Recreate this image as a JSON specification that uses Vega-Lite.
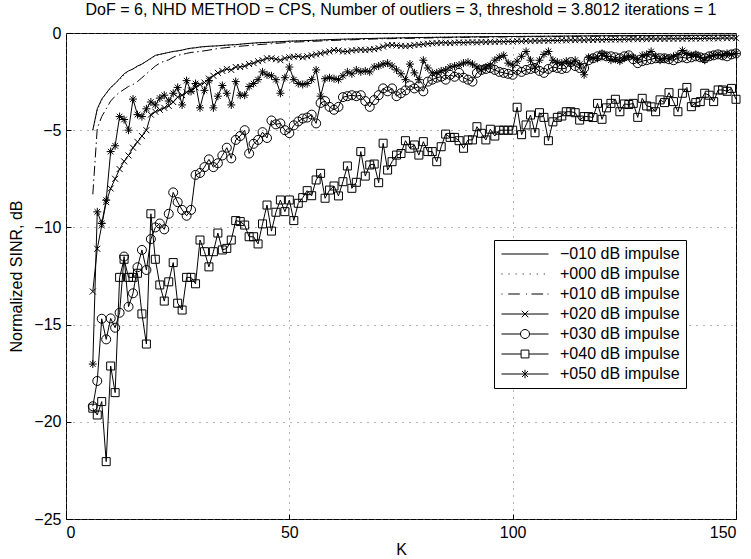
{
"$schema": "https://vega.github.io/schema/vega-lite/v6.json",
"width": 670, "height": 486,
"autosize": "none",
"padding": {"left": 66, "top": 33, "right": 15, "bottom": 40},
"title": {"text": "DoF = 6, NHD METHOD = CPS, Number of outliers = 3, threshold = 3.8012 iterations = 1", "fontSize": 16, "fontWeight": "normal", "font": "Liberation Sans", "color": "black", "offset": 7, "frame": "group", "anchor": "middle"},
"config": {
  "font": "Liberation Sans",
  "view": {"stroke": "black", "strokeWidth": 1},
  "axis": {"labelFontSize": 16, "labelColor": "black", "titleFontSize": 16, "titleFontWeight": "normal", "titleColor": "black", "grid": true, "gridColor": "#666", "gridDash": [1, 6], "gridWidth": 1, "domain": false, "ticks": true, "tickSize": -5, "tickColor": "black", "labelPadding": 10}
},
"datasets": {
"leg": [{"s":"−010 dB impulse","k":6,"v":-5},{"s":"+000 dB impulse","k":6,"v":-5},{"s":"+010 dB impulse","k":6,"v":-8.3},{"s":"+020 dB impulse","k":6,"v":-13.3},{"s":"+030 dB impulse","k":6,"v":-19.2},{"s":"+040 dB impulse","k":6,"v":-19.3},{"s":"+050 dB impulse","k":6,"v":-17}],
"s1": [{"k":6,"v":-5.0},{"k":7,"v":-3.9},{"k":8,"v":-3.4},{"k":9,"v":-3.1},{"k":10,"v":-2.8},{"k":11,"v":-2.6},{"k":12,"v":-2.35},{"k":13,"v":-2.1},{"k":14,"v":-1.95},{"k":15,"v":-1.85},{"k":16,"v":-1.7},{"k":17,"v":-1.6},{"k":18,"v":-1.45},{"k":19,"v":-1.3},{"k":20,"v":-1.15},{"k":21,"v":-1.1},{"k":22,"v":-1.05},{"k":23,"v":-1.0},{"k":24,"v":-0.95},{"k":25,"v":-0.92},{"k":26,"v":-0.88},{"k":27,"v":-0.82},{"k":28,"v":-0.78},{"k":29,"v":-0.76},{"k":30,"v":-0.72},{"k":32,"v":-0.68},{"k":34,"v":-0.66},{"k":36,"v":-0.62},{"k":38,"v":-0.6},{"k":40,"v":-0.55},{"k":43,"v":-0.5},{"k":46,"v":-0.47},{"k":50,"v":-0.42},{"k":55,"v":-0.38},{"k":60,"v":-0.33},{"k":65,"v":-0.3},{"k":70,"v":-0.27},{"k":75,"v":-0.25},{"k":80,"v":-0.23},{"k":90,"v":-0.2},{"k":100,"v":-0.18},{"k":110,"v":-0.16},{"k":120,"v":-0.14},{"k":130,"v":-0.13},{"k":140,"v":-0.12},{"k":150,"v":-0.11}],
"s2": [{"k":6,"v":-5.0},{"k":7,"v":-3.95},{"k":8,"v":-3.45},{"k":9,"v":-3.1},{"k":10,"v":-2.85},{"k":11,"v":-2.6},{"k":12,"v":-2.4},{"k":13,"v":-2.15},{"k":14,"v":-1.95},{"k":15,"v":-1.85},{"k":16,"v":-1.72},{"k":17,"v":-1.6},{"k":18,"v":-1.47},{"k":19,"v":-1.32},{"k":20,"v":-1.17},{"k":21,"v":-1.1},{"k":22,"v":-1.05},{"k":23,"v":-1.0},{"k":24,"v":-0.96},{"k":25,"v":-0.92},{"k":26,"v":-0.88},{"k":27,"v":-0.83},{"k":28,"v":-0.79},{"k":29,"v":-0.76},{"k":30,"v":-0.73},{"k":32,"v":-0.69},{"k":34,"v":-0.66},{"k":36,"v":-0.63},{"k":38,"v":-0.6},{"k":40,"v":-0.56},{"k":43,"v":-0.51},{"k":46,"v":-0.47},{"k":50,"v":-0.43},{"k":55,"v":-0.38},{"k":60,"v":-0.34},{"k":65,"v":-0.3},{"k":70,"v":-0.28},{"k":75,"v":-0.25},{"k":80,"v":-0.23},{"k":90,"v":-0.2},{"k":100,"v":-0.18},{"k":110,"v":-0.16},{"k":120,"v":-0.15},{"k":130,"v":-0.13},{"k":140,"v":-0.12},{"k":150,"v":-0.11}],
"s3": [{"k":6,"v":-8.3},{"k":7,"v":-4.9},{"k":8,"v":-4.3},{"k":9,"v":-3.9},{"k":10,"v":-3.5},{"k":11,"v":-3.25},{"k":12,"v":-3.05},{"k":13,"v":-2.9},{"k":14,"v":-2.75},{"k":15,"v":-2.65},{"k":16,"v":-2.5},{"k":17,"v":-2.3},{"k":18,"v":-2.1},{"k":19,"v":-1.9},{"k":20,"v":-1.7},{"k":21,"v":-1.55},{"k":22,"v":-1.45},{"k":23,"v":-1.38},{"k":24,"v":-1.25},{"k":25,"v":-1.15},{"k":26,"v":-1.1},{"k":27,"v":-1.05},{"k":28,"v":-1.0},{"k":30,"v":-0.95},{"k":32,"v":-0.88},{"k":34,"v":-0.8},{"k":36,"v":-0.75},{"k":38,"v":-0.7},{"k":40,"v":-0.66},{"k":43,"v":-0.6},{"k":46,"v":-0.55},{"k":50,"v":-0.48},{"k":55,"v":-0.43},{"k":60,"v":-0.38},{"k":65,"v":-0.34},{"k":70,"v":-0.3},{"k":80,"v":-0.26},{"k":90,"v":-0.22},{"k":100,"v":-0.2},{"k":110,"v":-0.18},{"k":120,"v":-0.16},{"k":130,"v":-0.15},{"k":140,"v":-0.14},{"k":150,"v":-0.13}],
"s4": [{"k":6,"v":-13.3},{"k":7,"v":-11.1},{"k":8,"v":-9.9},{"k":9,"v":-8.7},{"k":10,"v":-8.0},{"k":11,"v":-7.5},{"k":12,"v":-7.0},{"k":13,"v":-6.6},{"k":14,"v":-6.3},{"k":15,"v":-5.9},{"k":16,"v":-5.6},{"k":17,"v":-5.3},{"k":18,"v":-5.0},{"k":19,"v":-4.2},{"k":20,"v":-4.05},{"k":21,"v":-3.95},{"k":22,"v":-3.85},{"k":23,"v":-3.75},{"k":24,"v":-3.55},{"k":25,"v":-3.3},{"k":26,"v":-3.2},{"k":27,"v":-3.05},{"k":28,"v":-2.95},{"k":29,"v":-2.8},{"k":30,"v":-2.65},{"k":31,"v":-2.55},{"k":32,"v":-2.35},{"k":33,"v":-2.2},{"k":34,"v":-2.05},{"k":35,"v":-1.95},{"k":36,"v":-1.85},{"k":37,"v":-1.9},{"k":38,"v":-1.75},{"k":39,"v":-1.75},{"k":40,"v":-1.7},{"k":41,"v":-1.6},{"k":42,"v":-1.55},{"k":43,"v":-1.45},{"k":44,"v":-1.4},{"k":45,"v":-1.3},{"k":46,"v":-1.3},{"k":47,"v":-1.35},{"k":48,"v":-1.4},{"k":49,"v":-1.3},{"k":50,"v":-1.25},{"k":51,"v":-1.22},{"k":52,"v":-1.2},{"k":53,"v":-1.25},{"k":54,"v":-1.2},{"k":55,"v":-1.15},{"k":56,"v":-1.1},{"k":57,"v":-1.05},{"k":58,"v":-1.0},{"k":59,"v":-0.95},{"k":60,"v":-0.88},{"k":61,"v":-0.9},{"k":62,"v":-0.95},{"k":63,"v":-0.95},{"k":64,"v":-0.9},{"k":65,"v":-0.88},{"k":66,"v":-0.86},{"k":67,"v":-0.88},{"k":68,"v":-0.85},{"k":69,"v":-0.83},{"k":70,"v":-0.78},{"k":71,"v":-0.7},{"k":72,"v":-0.63},{"k":73,"v":-0.62},{"k":74,"v":-0.64},{"k":75,"v":-0.66},{"k":76,"v":-0.68},{"k":77,"v":-0.66},{"k":78,"v":-0.62},{"k":79,"v":-0.6},{"k":80,"v":-0.58},{"k":81,"v":-0.55},{"k":82,"v":-0.53},{"k":83,"v":-0.52},{"k":84,"v":-0.5},{"k":85,"v":-0.5},{"k":86,"v":-0.52},{"k":87,"v":-0.5},{"k":88,"v":-0.48},{"k":89,"v":-0.5},{"k":90,"v":-0.48},{"k":91,"v":-0.47},{"k":92,"v":-0.49},{"k":93,"v":-0.46},{"k":94,"v":-0.47},{"k":95,"v":-0.45},{"k":96,"v":-0.46},{"k":97,"v":-0.44},{"k":98,"v":-0.45},{"k":99,"v":-0.43},{"k":100,"v":-0.45},{"k":101,"v":-0.42},{"k":102,"v":-0.43},{"k":103,"v":-0.41},{"k":104,"v":-0.42},{"k":105,"v":-0.4},{"k":106,"v":-0.41},{"k":107,"v":-0.39},{"k":108,"v":-0.4},{"k":109,"v":-0.38},{"k":110,"v":-0.39},{"k":111,"v":-0.37},{"k":112,"v":-0.38},{"k":113,"v":-0.36},{"k":114,"v":-0.37},{"k":115,"v":-0.36},{"k":116,"v":-0.37},{"k":117,"v":-0.35},{"k":118,"v":-0.36},{"k":119,"v":-0.34},{"k":120,"v":-0.35},{"k":121,"v":-0.33},{"k":122,"v":-0.34},{"k":123,"v":-0.33},{"k":124,"v":-0.34},{"k":125,"v":-0.32},{"k":126,"v":-0.33},{"k":127,"v":-0.31},{"k":128,"v":-0.32},{"k":129,"v":-0.31},{"k":130,"v":-0.32},{"k":131,"v":-0.3},{"k":132,"v":-0.31},{"k":133,"v":-0.3},{"k":134,"v":-0.31},{"k":135,"v":-0.29},{"k":136,"v":-0.3},{"k":137,"v":-0.29},{"k":138,"v":-0.3},{"k":139,"v":-0.28},{"k":140,"v":-0.29},{"k":141,"v":-0.28},{"k":142,"v":-0.29},{"k":143,"v":-0.27},{"k":144,"v":-0.28},{"k":145,"v":-0.27},{"k":146,"v":-0.28},{"k":147,"v":-0.26},{"k":148,"v":-0.27},{"k":149,"v":-0.26},{"k":150,"v":-0.27}],
"s5": [{"k":6,"v":-19.2},{"k":7,"v":-17.9},{"k":8,"v":-14.7},{"k":9,"v":-15.76},{"k":10,"v":-14.68},{"k":11,"v":-15.16},{"k":12,"v":-14.39},{"k":13,"v":-11.5},{"k":14,"v":-14.08},{"k":15,"v":-13.39},{"k":16,"v":-12.05},{"k":17,"v":-11.16},{"k":18,"v":-12.19},{"k":19,"v":-10.6},{"k":20,"v":-10.0},{"k":21,"v":-9.8},{"k":22,"v":-10.1},{"k":23,"v":-9.3},{"k":24,"v":-8.2},{"k":25,"v":-8.7},{"k":26,"v":-9.1},{"k":27,"v":-9.4},{"k":28,"v":-9.1},{"k":29,"v":-7.3},{"k":30,"v":-7.2},{"k":31,"v":-6.9},{"k":32,"v":-6.5},{"k":33,"v":-6.9},{"k":34,"v":-6.7},{"k":35,"v":-6.3},{"k":36,"v":-5.9},{"k":37,"v":-6.45},{"k":38,"v":-5.5},{"k":39,"v":-5.3},{"k":40,"v":-5.0},{"k":41,"v":-6.2},{"k":42,"v":-5.7},{"k":43,"v":-5.5},{"k":44,"v":-5.1},{"k":45,"v":-5.4},{"k":46,"v":-4.5},{"k":47,"v":-4.7},{"k":48,"v":-4.65},{"k":49,"v":-5.0},{"k":50,"v":-5.15},{"k":51,"v":-4.75},{"k":52,"v":-4.55},{"k":53,"v":-4.4},{"k":54,"v":-4.35},{"k":55,"v":-4.2},{"k":56,"v":-4.65},{"k":57,"v":-3.6},{"k":58,"v":-3.5},{"k":59,"v":-3.8},{"k":60,"v":-3.95},{"k":61,"v":-3.8},{"k":62,"v":-3.3},{"k":63,"v":-3.25},{"k":64,"v":-3.2},{"k":65,"v":-3.25},{"k":66,"v":-3.2},{"k":67,"v":-3.5},{"k":68,"v":-3.8},{"k":69,"v":-3.45},{"k":70,"v":-3.2},{"k":71,"v":-2.85},{"k":72,"v":-3.0},{"k":73,"v":-2.85},{"k":74,"v":-3.25},{"k":75,"v":-3.1},{"k":76,"v":-2.95},{"k":77,"v":-2.7},{"k":78,"v":-2.85},{"k":79,"v":-2.75},{"k":80,"v":-3.0},{"k":81,"v":-2.5},{"k":82,"v":-2.4},{"k":83,"v":-2.3},{"k":84,"v":-2.25},{"k":85,"v":-2.4},{"k":86,"v":-2.15},{"k":87,"v":-2.25},{"k":88,"v":-2.05},{"k":89,"v":-2.3},{"k":90,"v":-2.4},{"k":91,"v":-2.5},{"k":92,"v":-2.05},{"k":93,"v":-1.9},{"k":94,"v":-1.85},{"k":95,"v":-1.8},{"k":96,"v":-1.9},{"k":97,"v":-2.0},{"k":98,"v":-2.05},{"k":99,"v":-2.1},{"k":100,"v":-2.15},{"k":101,"v":-1.9},{"k":102,"v":-2.0},{"k":103,"v":-1.9},{"k":104,"v":-1.85},{"k":105,"v":-1.8},{"k":106,"v":-1.95},{"k":107,"v":-2.05},{"k":108,"v":-1.85},{"k":109,"v":-1.75},{"k":110,"v":-1.8},{"k":111,"v":-1.85},{"k":112,"v":-1.8},{"k":113,"v":-1.5},{"k":114,"v":-1.7},{"k":115,"v":-1.8},{"k":116,"v":-1.8},{"k":117,"v":-1.4},{"k":118,"v":-1.3},{"k":119,"v":-1.2},{"k":120,"v":-1.15},{"k":121,"v":-1.2},{"k":122,"v":-1.2},{"k":123,"v":-1.25},{"k":124,"v":-1.3},{"k":125,"v":-1.2},{"k":126,"v":-1.15},{"k":127,"v":-1.35},{"k":128,"v":-1.55},{"k":129,"v":-1.45},{"k":130,"v":-1.4},{"k":131,"v":-1.35},{"k":132,"v":-1.3},{"k":133,"v":-1.3},{"k":134,"v":-1.3},{"k":135,"v":-1.35},{"k":136,"v":-1.4},{"k":137,"v":-1.3},{"k":138,"v":-1.25},{"k":139,"v":-1.3},{"k":140,"v":-1.25},{"k":141,"v":-1.2},{"k":142,"v":-1.25},{"k":143,"v":-1.3},{"k":144,"v":-1.2},{"k":145,"v":-1.15},{"k":146,"v":-1.1},{"k":147,"v":-1.15},{"k":148,"v":-1.2},{"k":149,"v":-1.1},{"k":150,"v":-1.05}],
"s6": [{"k":6,"v":-19.3},{"k":7,"v":-19.65},{"k":8,"v":-18.96},{"k":9,"v":-22.05},{"k":10,"v":-17.13},{"k":11,"v":-18.5},{"k":12,"v":-12.57},{"k":13,"v":-11.64},{"k":14,"v":-12.57},{"k":15,"v":-12.57},{"k":16,"v":-12.36},{"k":17,"v":-14.45},{"k":18,"v":-16.0},{"k":19,"v":-9.3},{"k":20,"v":-11.64},{"k":21,"v":-12.96},{"k":22,"v":-13.79},{"k":23,"v":-12.8},{"k":24,"v":-11.81},{"k":25,"v":-13.9},{"k":26,"v":-14.25},{"k":27,"v":-12.57},{"k":28,"v":-12.57},{"k":29,"v":-12.9},{"k":30,"v":-10.65},{"k":31,"v":-11.25},{"k":32,"v":-12.03},{"k":33,"v":-11.25},{"k":34,"v":-10.29},{"k":35,"v":-11.16},{"k":36,"v":-11.08},{"k":37,"v":-10.65},{"k":38,"v":-9.65},{"k":39,"v":-9.7},{"k":40,"v":-9.88},{"k":41,"v":-10.48},{"k":42,"v":-10.48},{"k":43,"v":-10.85},{"k":44,"v":-9.82},{"k":45,"v":-8.85},{"k":46,"v":-10.19},{"k":47,"v":-9.22},{"k":48,"v":-8.59},{"k":49,"v":-9.19},{"k":50,"v":-8.59},{"k":51,"v":-9.65},{"k":52,"v":-8.76},{"k":53,"v":-8.47},{"k":54,"v":-8.11},{"k":55,"v":-8.37},{"k":56,"v":-7.56},{"k":57,"v":-7.22},{"k":58,"v":-8.5},{"k":59,"v":-8.08},{"k":60,"v":-7.87},{"k":61,"v":-8.38},{"k":62,"v":-7.65},{"k":63,"v":-6.84},{"k":64,"v":-7.99},{"k":65,"v":-7.68},{"k":66,"v":-6.1},{"k":67,"v":-7.36},{"k":68,"v":-6.79},{"k":69,"v":-6.74},{"k":70,"v":-7.7},{"k":71,"v":-5.67},{"k":72,"v":-7.05},{"k":73,"v":-6.62},{"k":74,"v":-6.28},{"k":75,"v":-6.2},{"k":76,"v":-5.54},{"k":77,"v":-5.93},{"k":78,"v":-5.76},{"k":79,"v":-6.28},{"k":80,"v":-5.59},{"k":81,"v":-6.1},{"k":82,"v":-6.1},{"k":83,"v":-6.62},{"k":84,"v":-5.85},{"k":85,"v":-5.2},{"k":86,"v":-5.37},{"k":87,"v":-5.37},{"k":88,"v":-5.54},{"k":89,"v":-5.93},{"k":90,"v":-5.5},{"k":91,"v":-5.5},{"k":92,"v":-4.82},{"k":93,"v":-5.16},{"k":94,"v":-5.5},{"k":95,"v":-4.95},{"k":96,"v":-5.3},{"k":97,"v":-5.0},{"k":98,"v":-5.0},{"k":99,"v":-5.0},{"k":100,"v":-5.0},{"k":101,"v":-3.82},{"k":102,"v":-5.23},{"k":103,"v":-4.73},{"k":104,"v":-4.22},{"k":105,"v":-5.13},{"k":106,"v":-4.1},{"k":107,"v":-4.34},{"k":108,"v":-5.54},{"k":109,"v":-4.57},{"k":110,"v":-4.34},{"k":111,"v":-4.27},{"k":112,"v":-4.05},{"k":113,"v":-4.05},{"k":114,"v":-4.1},{"k":115,"v":-4.48},{"k":116,"v":-4.3},{"k":117,"v":-4.3},{"k":118,"v":-4.35},{"k":119,"v":-3.62},{"k":120,"v":-4.44},{"k":121,"v":-3.85},{"k":122,"v":-3.62},{"k":123,"v":-3.41},{"k":124,"v":-4.05},{"k":125,"v":-3.65},{"k":126,"v":-3.68},{"k":127,"v":-3.62},{"k":128,"v":-4.34},{"k":129,"v":-3.36},{"k":130,"v":-3.75},{"k":131,"v":-3.8},{"k":132,"v":-4.05},{"k":133,"v":-3.44},{"k":134,"v":-3.58},{"k":135,"v":-3.07},{"k":136,"v":-3.53},{"k":137,"v":-4.05},{"k":138,"v":-3.1},{"k":139,"v":-2.8},{"k":140,"v":-3.79},{"k":141,"v":-3.58},{"k":142,"v":-3.53},{"k":143,"v":-3.1},{"k":144,"v":-3.2},{"k":145,"v":-3.53},{"k":146,"v":-2.93},{"k":147,"v":-2.93},{"k":148,"v":-3.0},{"k":149,"v":-2.85},{"k":150,"v":-3.41}],
"s7": [{"k":6,"v":-17.03},{"k":7,"v":-9.2},{"k":8,"v":-9.8},{"k":9,"v":-8.6},{"k":10,"v":-6.1},{"k":11,"v":-5.8},{"k":12,"v":-4.3},{"k":13,"v":-4.45},{"k":14,"v":-5.0},{"k":15,"v":-3.4},{"k":16,"v":-4.2},{"k":17,"v":-4.3},{"k":18,"v":-3.9},{"k":19,"v":-3.55},{"k":20,"v":-3.7},{"k":21,"v":-3.35},{"k":22,"v":-3.2},{"k":23,"v":-3.5},{"k":24,"v":-3.1},{"k":25,"v":-2.8},{"k":26,"v":-3.7},{"k":27,"v":-2.45},{"k":28,"v":-3.0},{"k":29,"v":-2.6},{"k":30,"v":-3.85},{"k":31,"v":-2.95},{"k":32,"v":-2.45},{"k":33,"v":-3.85},{"k":34,"v":-3.25},{"k":35,"v":-2.7},{"k":36,"v":-3.1},{"k":37,"v":-3.7},{"k":38,"v":-2.5},{"k":39,"v":-3.2},{"k":40,"v":-3.2},{"k":41,"v":-2.75},{"k":42,"v":-2.6},{"k":43,"v":-2.4},{"k":44,"v":-2.0},{"k":45,"v":-2.15},{"k":46,"v":-2.2},{"k":47,"v":-2.4},{"k":48,"v":-3.1},{"k":49,"v":-2.3},{"k":50,"v":-1.75},{"k":51,"v":-2.4},{"k":52,"v":-2.6},{"k":53,"v":-2.65},{"k":54,"v":-2.6},{"k":55,"v":-2.4},{"k":56,"v":-1.9},{"k":57,"v":-3.25},{"k":58,"v":-2.35},{"k":59,"v":-2.3},{"k":60,"v":-2.35},{"k":61,"v":-2.4},{"k":62,"v":-2.2},{"k":63,"v":-2.0},{"k":64,"v":-2.1},{"k":65,"v":-1.9},{"k":66,"v":-2.0},{"k":67,"v":-1.95},{"k":68,"v":-2.0},{"k":69,"v":-1.75},{"k":70,"v":-1.7},{"k":71,"v":-1.6},{"k":72,"v":-1.55},{"k":73,"v":-1.7},{"k":74,"v":-1.9},{"k":75,"v":-2.1},{"k":76,"v":-2.4},{"k":77,"v":-1.6},{"k":78,"v":-2.05},{"k":79,"v":-2.4},{"k":80,"v":-1.4},{"k":81,"v":-1.8},{"k":82,"v":-2.05},{"k":83,"v":-2.05},{"k":84,"v":-1.95},{"k":85,"v":-1.9},{"k":86,"v":-1.75},{"k":87,"v":-1.7},{"k":88,"v":-1.65},{"k":89,"v":-1.55},{"k":90,"v":-1.5},{"k":91,"v":-1.6},{"k":92,"v":-1.75},{"k":93,"v":-1.9},{"k":94,"v":-1.75},{"k":95,"v":-1.65},{"k":96,"v":-1.4},{"k":97,"v":-1.25},{"k":98,"v":-1.15},{"k":99,"v":-1.55},{"k":100,"v":-1.65},{"k":101,"v":-1.45},{"k":102,"v":-1.2},{"k":103,"v":-0.95},{"k":104,"v":-1.4},{"k":105,"v":-1.75},{"k":106,"v":-1.4},{"k":107,"v":-1.1},{"k":108,"v":-0.95},{"k":109,"v":-1.4},{"k":110,"v":-1.5},{"k":111,"v":-1.55},{"k":112,"v":-1.45},{"k":113,"v":-1.55},{"k":114,"v":-1.4},{"k":115,"v":-1.6},{"k":116,"v":-2.15},{"k":117,"v":-1.25},{"k":118,"v":-1.3},{"k":119,"v":-1.3},{"k":120,"v":-1.05},{"k":121,"v":-1.2},{"k":122,"v":-1.4},{"k":123,"v":-1.35},{"k":124,"v":-1.45},{"k":125,"v":-1.3},{"k":126,"v":-1.2},{"k":127,"v":-1.25},{"k":128,"v":-1.35},{"k":129,"v":-1.15},{"k":130,"v":-1.1},{"k":131,"v":-0.95},{"k":132,"v":-1.2},{"k":133,"v":-1.4},{"k":134,"v":-1.3},{"k":135,"v":-1.3},{"k":136,"v":-1.2},{"k":137,"v":-1.1},{"k":138,"v":-0.9},{"k":139,"v":-1.05},{"k":140,"v":-1.15},{"k":141,"v":-1.1},{"k":142,"v":-1.25},{"k":143,"v":-1.4},{"k":144,"v":-1.2},{"k":145,"v":-1.15},{"k":146,"v":-1.1},{"k":147,"v":-1.15},{"k":148,"v":-1.05},{"k":149,"v":-1.1},{"k":150,"v":-1.05}]
},
"encoding": {
  "x": {"field": "k", "type": "quantitative", "scale": {"domain": [0, 150], "nice": false, "zero": false}, "axis": {"title": "K", "values": [0, 50, 100, 150], "titlePadding": 1}},
  "y": {"field": "v", "type": "quantitative", "scale": {"domain": [-25, 0], "nice": false, "zero": false}, "axis": {"title": "Normalized SINR, dB", "values": [-25, -20, -15, -10, -5, 0], "titlePadding": 9}}
},
"layer": [
  {"data": {"name": "s1"}, "mark": {"type": "line", "color": "black", "strokeWidth": 1}},
  {"data": {"name": "s2"}, "mark": {"type": "line", "color": "black", "strokeWidth": 1, "strokeDash": [1, 3]}},
  {"data": {"name": "s3"}, "mark": {"type": "line", "color": "black", "strokeWidth": 1, "strokeDash": [10, 3.5, 1.5, 3.5]}},
  {"data": {"name": "s4"}, "mark": {"type": "line", "color": "black", "strokeWidth": 1}},
  {"data": {"name": "s5"}, "mark": {"type": "line", "color": "black", "strokeWidth": 1}},
  {"data": {"name": "s6"}, "mark": {"type": "line", "color": "black", "strokeWidth": 1}},
  {"data": {"name": "s7"}, "mark": {"type": "line", "color": "black", "strokeWidth": 1}},
  {"data": {"name": "s4"}, "mark": {"type": "point", "shape": "M-1,-1L1,1M-1,1L1,-1", "filled": false, "color": "black", "size": 36, "strokeWidth": 1, "opacity": 1}},
  {"data": {"name": "s5"}, "mark": {"type": "point", "shape": "circle", "filled": false, "color": "black", "size": 81, "strokeWidth": 1, "opacity": 1}},
  {"data": {"name": "s6"}, "mark": {"type": "point", "shape": "square", "filled": false, "color": "black", "size": 64, "strokeWidth": 1, "opacity": 1}},
  {"data": {"name": "s7"}, "mark": {"type": "point", "shape": "M-1,0L1,0M0,-1L0,1M-0.7,-0.7L0.7,0.7M-0.7,0.7L0.7,-0.7", "filled": false, "color": "black", "size": 64, "strokeWidth": 1, "opacity": 1}},
  {"data": {"name": "leg"}, "mark": {"type": "point", "filled": false, "color": "black", "opacity": 0, "strokeWidth": 1},
   "encoding": {
     "shape": {"field": "s", "type": "nominal",
       "scale": {"domain": ["−010 dB impulse", "+000 dB impulse", "+010 dB impulse", "+020 dB impulse", "+030 dB impulse", "+040 dB impulse", "+050 dB impulse"],
                 "range": ["M-3.6,0L3.6,0",
                           "M-3.6,0L-3.45,0M-2.52,0L-2.37,0M-1.44,0L-1.29,0M-0.36,0L-0.21,0M0.72,0L0.87,0M1.8,0L1.95,0M2.88,0L3.03,0",
                           "M-3.6,0L-3.45,0M-2.57,0L-0.8,0M0.15,0L0.3,0M1,0L2.79,0M3.45,0L3.6,0",
                           "M-3.6,0L3.6,0M-0.5,-0.5L0.5,0.5M-0.5,0.5L0.5,-0.5",
                           "M-3.6,0L-0.7,0M0.7,0L3.6,0M0.7,0L0.606,0.35L0.35,0.606L0,0.7L-0.35,0.606L-0.606,0.35L-0.7,0L-0.606,-0.35L-0.35,-0.606L0,-0.7L0.35,-0.606L0.606,-0.35Z",
                           "M-3.6,0L-0.6,0M0.6,0L3.6,0M-0.6,-0.6L0.6,-0.6L0.6,0.6L-0.6,0.6Z",
                           "M-3.6,0L3.6,0M0,-0.65L0,0.65M-0.46,-0.46L0.46,0.46M-0.46,0.46L0.46,-0.46"]},
       "legend": {"orient": "none", "legendX": 428, "legendY": 207, "title": null, "strokeColor": "black", "fillColor": "white", "padding": 6, "symbolSize": 170, "symbolOffset": 17, "labelOffset": 27, "labelFontSize": 16, "labelColor": "black", "labelFont": "Liberation Sans", "rowPadding": 4, "symbolStrokeWidth": 1, "symbolStrokeColor": "black", "symbolFillColor": "transparent", "symbolOpacity": 1,
                  "encode": {"symbols": {"update": {"opacity": {"value": 1}, "strokeOpacity": {"value": 1}}}}}}
   }}
]
}
